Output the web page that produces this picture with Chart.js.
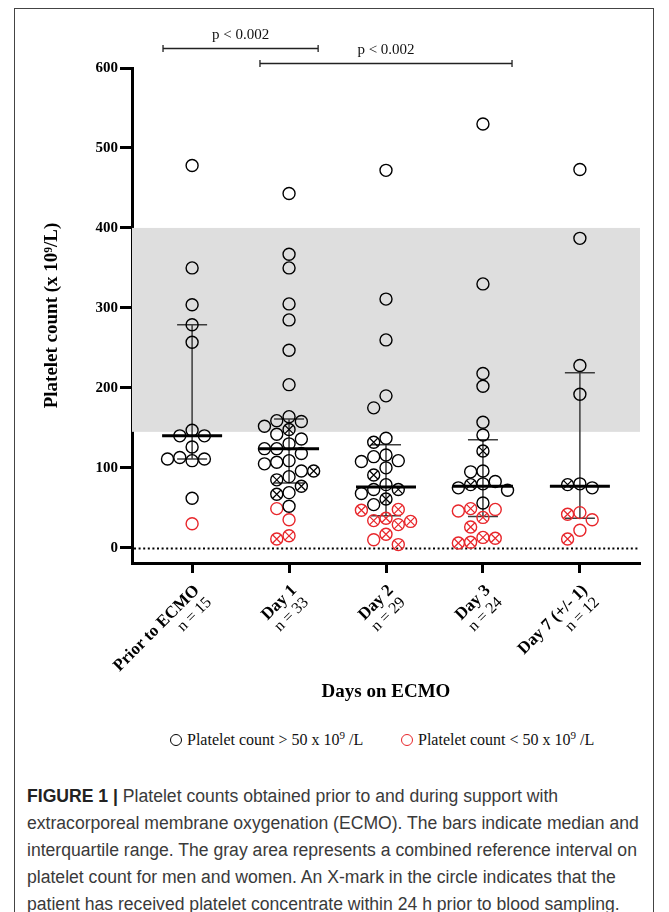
<!DOCTYPE html>
<html>
<head>
<meta charset="utf-8">
<script src="https://cdn.jsdelivr.net/npm/chart.js@4.4.1/dist/chart.umd.min.js"></script>
<style>
  html, body { margin: 0; padding: 0; background: #fff; }
  body { position: relative; width: 669px; height: 912px; overflow: hidden; }
  .frame { position: absolute; left: 14px; top: 8px; width: 640px; height: 1000px;
           border: 1.5px solid #444; box-sizing: border-box; }
  #chart { position: absolute; left: 0; top: 0; }
  .legend-item { position: absolute; top: 731px; height: 20px; line-height: 20px;
                 font: 16px "Liberation Serif", serif; color: #111; white-space: nowrap; }
  .legend-item .dot { display: inline-block; width: 10px; height: 10px; border-radius: 50%;
                      border: 1.4px solid #000; vertical-align: -1px; margin-right: 5px; }
  .legend-item sup { font-size: 11px; line-height: 0; }
  .caption { position: absolute; left: 27px; top: 783px; font: 17.6px "Liberation Sans", Arial, sans-serif;
             line-height: 27px; color: #3a3a3a; white-space: nowrap; }
  .caption b { color: #222; }
</style>
</head>
<body>
<div class="frame"></div>
<canvas id="chart" width="669" height="715"></canvas>
<div class="legend-item" style="left:170px"><span class="dot"></span>Platelet count &gt; 50 x 10<sup>9</sup> /L</div>
<div class="legend-item" style="left:401px"><span class="dot" style="border-color:#e8262b"></span>Platelet count &lt; 50 x 10<sup>9</sup> /L</div>
<div class="caption"><b>FIGURE 1 |</b> Platelet counts obtained prior to and during support with<br>extracorporeal membrane oxygenation (ECMO). The bars indicate median and<br>interquartile range. The gray area represents a combined reference interval on<br>platelet count for men and women. An X-mark in the circle indicates that the<br>patient has received platelet concentrate within 24 h prior to blood sampling.</div>
<script>
// categories and sample sizes
const categories = ['Prior to ECMO', 'Day 1', 'Day 2', 'Day 3', 'Day 7 (+/- 1)'];
const sampleSizes = [15, 33, 29, 24, 12];

// platelet counts (x 10^9/L); "Marked" = received platelet concentrate (X in circle)
const priorPlain  = [478, 350, 304, 279, 257, 147, 140, 140, 126, 113, 111, 111, 109, 62, 30];
const priorMarked = [];
const day1Plain   = [443, 367, 350, 305, 285, 247, 204, 164, 159, 158, 152, 142, 136, 130, 124, 124, 118, 109, 107, 105, 96, 89, 69, 52, 49, 35];
const day1Marked  = [148, 96, 85, 77, 67, 15, 11];
const day2Plain   = [472, 311, 260, 190, 175, 137, 116, 114, 109, 108, 100, 79, 73, 68, 54, 10];
const day2Marked  = [132, 91, 73, 61, 48, 47, 37, 34, 33, 29, 17, 4];
const day3Plain   = [530, 330, 218, 202, 157, 141, 96, 95, 83, 80, 75, 72, 56, 48, 46];
const day3Marked  = [121, 79, 49, 38, 26, 13, 12, 7, 6];
const day7Plain   = [473, 387, 228, 192, 80, 75, 44, 35, 22];
const day7Marked  = [79, 42, 11];

// median and interquartile range
const medians        = [140, 124, 76, 77, 77];
const lowerQuartiles = [111, 81, 40, 39, 37];
const upperQuartiles = [279, 161, 129, 135, 219];

// reference interval (gray band) and low-count threshold
const referenceRange = [145, 400];
const lowThreshold = 50;

const yTicks = [0, 100, 200, 300, 400, 500, 600];

// significance brackets
const comparisons = [[0, 1], [1, 3]];
const pLabels = ['p < 0.002', 'p < 0.002'];

const groups = [
    [priorPlain, priorMarked],
    [day1Plain, day1Marked],
    [day2Plain, day2Marked],
    [day3Plain, day3Marked],
    [day7Plain, day7Marked]
];

const RED = '#e8262b';
const SERIF = '"Liberation Serif", "Times New Roman", serif';

const decorPlugin = {
    id: 'decor',
    beforeDatasetsDraw(chart) {
        const {ctx, chartArea: a, scales: {x, y}} = chart;
        ctx.save();
        // reference interval
        ctx.fillStyle = '#dedede';
        const yTop = y.getPixelForValue(referenceRange[1]);
        const yBot = y.getPixelForValue(referenceRange[0]);
        ctx.fillRect(a.left, yTop, a.right - a.left, yBot - yTop);
        // dotted zero line
        ctx.strokeStyle = '#000';
        ctx.lineWidth = 2;
        ctx.setLineDash([2, 2.6]);
        const y0 = Math.round(y.getPixelForValue(0)) + 0.5;
        ctx.beginPath();
        ctx.moveTo(a.left + 2, y0);
        ctx.lineTo(a.right, y0);
        ctx.stroke();
        ctx.setLineDash([]);
        // median + IQR bars
        categories.forEach((c, i) => {
            const cx = x.getPixelForValue(i);
            const yq1 = y.getPixelForValue(lowerQuartiles[i]);
            const yq3 = y.getPixelForValue(upperQuartiles[i]);
            const ym = y.getPixelForValue(medians[i]);
            ctx.strokeStyle = '#3c3c3c';
            ctx.lineWidth = 1.5;
            ctx.beginPath();
            ctx.moveTo(cx, yq3); ctx.lineTo(cx, yq1);
            ctx.moveTo(cx - 15, yq3); ctx.lineTo(cx + 15, yq3);
            ctx.moveTo(cx - 15, yq1); ctx.lineTo(cx + 15, yq1);
            ctx.stroke();
            ctx.strokeStyle = '#000';
            ctx.lineWidth = 3;
            ctx.beginPath();
            ctx.moveTo(cx - 30, ym); ctx.lineTo(cx + 30, ym);
            ctx.stroke();
        });
        ctx.restore();
    },
    afterDraw(chart) {
        const {ctx, chartArea: a, scales: {x, y}} = chart;
        ctx.save();
        // significance brackets
        const levels = [625, 606];
        ctx.strokeStyle = '#222';
        ctx.fillStyle = '#111';
        ctx.lineWidth = 1.3;
        ctx.font = '15px ' + SERIF;
        ctx.textAlign = 'center';
        ctx.textBaseline = 'alphabetic';
        comparisons.forEach(([p, q], k) => {
            const x1 = x.getPixelForValue(p - 0.3);
            const x2 = x.getPixelForValue(q + 0.3);
            const yy = Math.round(y.getPixelForValue(levels[k])) + 0.5;
            ctx.beginPath();
            ctx.moveTo(x1, yy); ctx.lineTo(x2, yy);
            ctx.moveTo(x1, yy - 3.5); ctx.lineTo(x1, yy + 3.5);
            ctx.moveTo(x2, yy - 3.5); ctx.lineTo(x2, yy + 3.5);
            ctx.stroke();
            ctx.fillText(pLabels[k], (x1 + x2) / 2, yy - 10);
        });
        // rotated category labels with n
        ctx.fillStyle = '#000';
        ctx.textAlign = 'right';
        ctx.textBaseline = 'middle';
        categories.forEach((c, i) => {
            const cx = x.getPixelForValue(i);
            ctx.save();
            ctx.translate(cx + 5, a.bottom + 25);
            ctx.rotate(-Math.PI / 4);
            ctx.font = 'bold 17px ' + SERIF;
            ctx.fillText(c, 0, 0);
            ctx.font = '16px ' + SERIF;
            ctx.fillText('n = ' + sampleSizes[i], 0, 17);
            ctx.restore();
        });
        ctx.restore();
    }
};

const ctx = document.getElementById('chart').getContext('2d');
const chart = new Chart(ctx, {
    type: 'scatter',
    data: {
        datasets: [
            { data: [], pointStyle: 'circle', pointRadius: 6, pointHoverRadius: 6, pointBorderWidth: 1.4,
              pointBackgroundColor: 'rgba(0,0,0,0)', pointBorderColor: '#000' },
            { data: [], pointStyle: 'circle', pointRadius: 6, pointHoverRadius: 6, pointBorderWidth: 1.4,
              pointBackgroundColor: 'rgba(0,0,0,0)', pointBorderColor: RED },
            { data: [], pointStyle: 'crossRot', pointRadius: 6, pointHoverRadius: 6, pointBorderWidth: 1.2,
              pointBorderColor: '#000' },
            { data: [], pointStyle: 'crossRot', pointRadius: 6, pointHoverRadius: 6, pointBorderWidth: 1.2,
              pointBorderColor: RED }
        ]
    },
    options: {
        responsive: false,
        animation: false,
        events: [],
        layout: { padding: { left: 14, top: 68, right: 29, bottom: 0 } },
        plugins: { legend: { display: false }, tooltip: { enabled: false } },
        scales: {
            x: {
                type: 'linear',
                min: -0.62,
                max: 4.62,
                z: 1,
                afterBuildTicks: s => { s.ticks = categories.map((c, i) => ({ value: i })); },
                afterFit: s => { s.height = 152; },
                ticks: { display: false },
                grid: { drawOnChartArea: false, drawTicks: true, tickLength: 10, tickWidth: 3, tickColor: '#000' },
                border: { display: true, color: '#000', width: 3 },
                title: { display: true, text: 'Days on ECMO', color: '#000',
                         font: { family: SERIF, size: 19, weight: 'bold' }, padding: { top: 0, bottom: 12 } }
            },
            y: {
                min: -19,
                max: 600,
                z: 1,
                afterBuildTicks: s => { s.ticks = yTicks.map(v => ({ value: v })); },
                afterFit: s => { s.width = 118; },
                ticks: { color: '#000', padding: 2, font: { family: SERIF, size: 15, weight: 'bold' } },
                grid: { drawOnChartArea: false, drawTicks: true, tickLength: 12, tickWidth: 3, tickColor: '#000' },
                border: { display: true, color: '#000', width: 3 },
                title: { display: true, text: 'Platelet count (x 10⁹/L)', color: '#000',
                         font: { family: SERIF, size: 19, weight: 'bold' }, padding: { top: 27, bottom: 0 } }
            }
        }
    },
    plugins: [decorPlugin]
});

// column scatter: spread points horizontally in lanes so circles do not overlap
function layoutPoints() {
    const xs = chart.scales.x, ys = chart.scales.y;
    const LANE = 12.3, DIAM = 12;
    const sets = [[], [], [], []];
    groups.forEach(([plain, marked], i) => {
        const pts = plain.map(v => ({ v, marked: false }))
            .concat(marked.map(v => ({ v, marked: true })))
            .sort((a, b) => b.v - a.v);
        const cx = xs.getPixelForValue(i);
        const placed = [];
        pts.forEach(p => {
            const py = ys.getPixelForValue(p.v);
            for (let k = 0; k < 30; k++) {
                const lane = k === 0 ? 0 : (k % 2 ? -Math.ceil(k / 2) : Math.ceil(k / 2));
                const px = cx + lane * LANE;
                if (!placed.some(q => Math.hypot(q.px - px, q.py - py) < DIAM)) {
                    placed.push({ px, py });
                    const pt = { x: xs.getValueForPixel(px), y: p.v };
                    const low = p.v < lowThreshold;
                    sets[low ? 1 : 0].push(pt);
                    if (p.marked) sets[low ? 3 : 2].push(pt);
                    break;
                }
            }
        });
    });
    sets.forEach((d, k) => { chart.data.datasets[k].data = d; });
    chart.update('none');
}
layoutPoints();
</script>
</body>
</html>
